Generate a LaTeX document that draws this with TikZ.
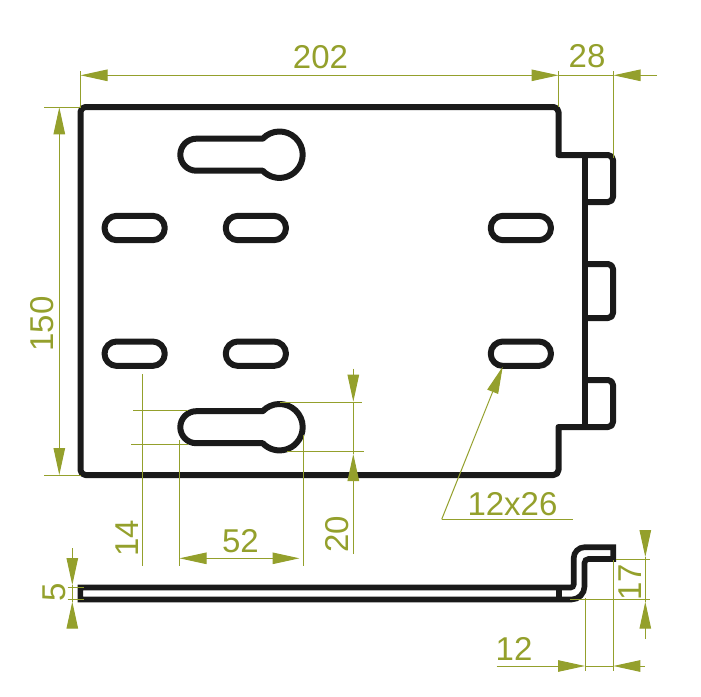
\documentclass[tikz,border=0pt]{standalone}
\usepackage{fontspec}
\setmainfont{Liberation Sans}
\usetikzlibrary{arrows.meta}
\definecolor{dimol}{RGB}{148,160,44}
\definecolor{ink}{RGB}{26,26,26}
\tikzset{
  part/.style={draw=ink,line width=6pt,line join=round},
  thin part/.style={draw=ink,line width=5.6pt,line join=miter},
  slotshape/.style={part,rounded corners=12.2pt},
  dimline/.style={draw=dimol,line width=1pt},
  dimtip/.style={dimline,-{Triangle[length=27pt,width=11.5pt,fill=dimol]}},
  dimtext/.style={text=dimol,inner sep=0pt,font=\fontsize{33}{33}\selectfont},
}
\begin{document}
\begin{tikzpicture}[x=1pt,y=1pt,yscale=-1]
\useasboundingbox (0,0) rectangle (701,696);
% plate
\draw[part,rounded corners=5pt] (585,202) -- (613,202) -- (613,155) [sharp corners] -- (558.5,155) [rounded corners=5pt] -- (558.5,107) -- (80.5,107) -- (80.5,475) -- (558.5,475) [sharp corners] -- (558.5,427) [rounded corners=5pt] -- (613,427) -- (613,380) -- (585,380);
\draw[part] (585,155) -- (585,427);
% middle tab
\draw[part,rounded corners=5pt] (585,264) -- (613,264) -- (613,318) -- (585,318);
% slots
\draw[slotshape] (104.5,215.8) rectangle (164.8,240.2);
\draw[slotshape] (225.7,215.8) rectangle (286,240.2);
\draw[slotshape] (490.7,215.8) rectangle (551,240.2);
\draw[slotshape] (104.5,341.5) rectangle (164.8,365.9);
\draw[slotshape] (225.7,341.5) rectangle (286,365.9);
\draw[slotshape] (490.7,341.5) rectangle (551,365.9);
% keyholes
\draw[part] (196.3,138.7) -- (262.7,138.7) arc[start angle=223.6,end angle=496.4,radius=23.2pt] -- (196.3,170.7) arc[start angle=90,end angle=270,radius=16pt] -- cycle;
\draw[part] (196.3,411.2) -- (262.7,411.2) arc[start angle=223.6,end angle=496.4,radius=23.2pt] -- (196.3,443.2) arc[start angle=90,end angle=270,radius=16pt] -- cycle;
% side view
\draw[thin part] (80.3,587.5) [rounded corners=3pt] -- (573.7,587.5) [rounded corners=11pt] -- (573.7,547.2) [sharp corners] -- (613.2,547.2) -- (613.2,559) [rounded corners=4pt] -- (584.5,559) [rounded corners=13pt] -- (584.5,599.5) [sharp corners] -- (80.3,599.5) -- cycle;
\draw[thin part] (559,587.5) -- (559,599.5);
% dimension 202 / 28
\draw[dimline] (80.5,71) -- (80.5,107);
\draw[dimline] (558.5,71) -- (558.5,107);
\draw[dimline] (613.5,71) -- (613.5,158);
\draw[dimtip] (320,75.3) -- (80.5,75.3);
\draw[dimtip] (320,75.3) -- (558.5,75.3);
\draw[dimline] (558.5,75.3) -- (613.5,75.3);
\draw[dimtip] (657,75.3) -- (613.5,75.3);
\node[dimtext] (t202) at (320.5,57) {202};
\node[dimtext] (t28) at (587,56.5) {28};
% dimension 150
\draw[dimline] (44,107.3) -- (80.5,107.3);
\draw[dimline] (44,475) -- (80.5,475);
\draw[dimtip] (59.3,290) -- (59.3,107.3);
\draw[dimtip] (59.3,290) -- (59.3,475);
\node[dimtext,rotate=90] (t150) at (42,324) {150};
% dimension 14
\draw[dimline] (142.3,374) -- (142.3,566);
\draw[dimline] (133,410.3) -- (188,410.3);
\draw[dimline] (131,444.3) -- (188,444.3);
\node[dimtext,rotate=90] (t14) at (127,538.5) {14};
% dimension 52
\draw[dimline] (179.3,440) -- (179.3,566);
\draw[dimline] (303.3,435) -- (303.3,566);
\draw[dimtip] (240,558.3) -- (179.5,558.3);
\draw[dimtip] (240,558.3) -- (299.5,558.3);
\node[dimtext] (t52) at (240.5,541) {52};
% dimension 20
\draw[dimline] (280,402.3) -- (362,402.3);
\draw[dimline] (287,451.3) -- (364,451.3);
\draw[dimline] (353.3,402) -- (353.3,454);
\draw[dimtip] (353.3,368.5) -- (353.3,401.7);
\draw[dimtip] (353.3,554) -- (353.3,454);
\node[dimtext,rotate=90] (t20) at (337.5,534) {20};
% leader 12x26
\draw[dimline] (572.7,519.3) -- (441.7,519.3);
\draw[dimtip] (441.7,519.3) -- (502.7,366.7);
\node[dimtext] (t1226) at (512.5,504) {12x26};
% dimension 5
\draw[dimline] (67.7,587.3) -- (83.7,587.3);
\draw[dimline] (67.7,599.3) -- (83.7,599.3);
\draw[dimline] (72.3,585) -- (72.3,602);
\draw[dimtip] (72.3,548) -- (72.3,585);
\draw[dimtip] (72.3,626.7) -- (72.3,601.7);
\node[dimtext,rotate=90] (t5) at (54.5,592.7) {5};
% dimension 17
\draw[dimline] (616,559.3) -- (650,559.3);
\draw[dimline] (570,599.3) -- (650,599.3);
\draw[dimline] (645.3,557) -- (645.3,602);
\draw[dimtip] (645.3,530) -- (645.3,557);
\draw[dimtip] (645.3,639) -- (645.3,601.7);
\node[dimtext,rotate=90] (t17) at (630.5,582) {17};
% dimension 12
\draw[dimline] (585.3,598) -- (585.3,670.7);
\draw[dimline] (613.3,560) -- (613.3,670.7);
\draw[dimline] (585,666) -- (613.3,666);
\draw[dimtip] (496.7,666) -- (585,666);
\draw[dimtip] (645,666) -- (613.3,666);
\node[dimtext] (t12) at (514,649) {12};
\end{tikzpicture}
\end{document}
